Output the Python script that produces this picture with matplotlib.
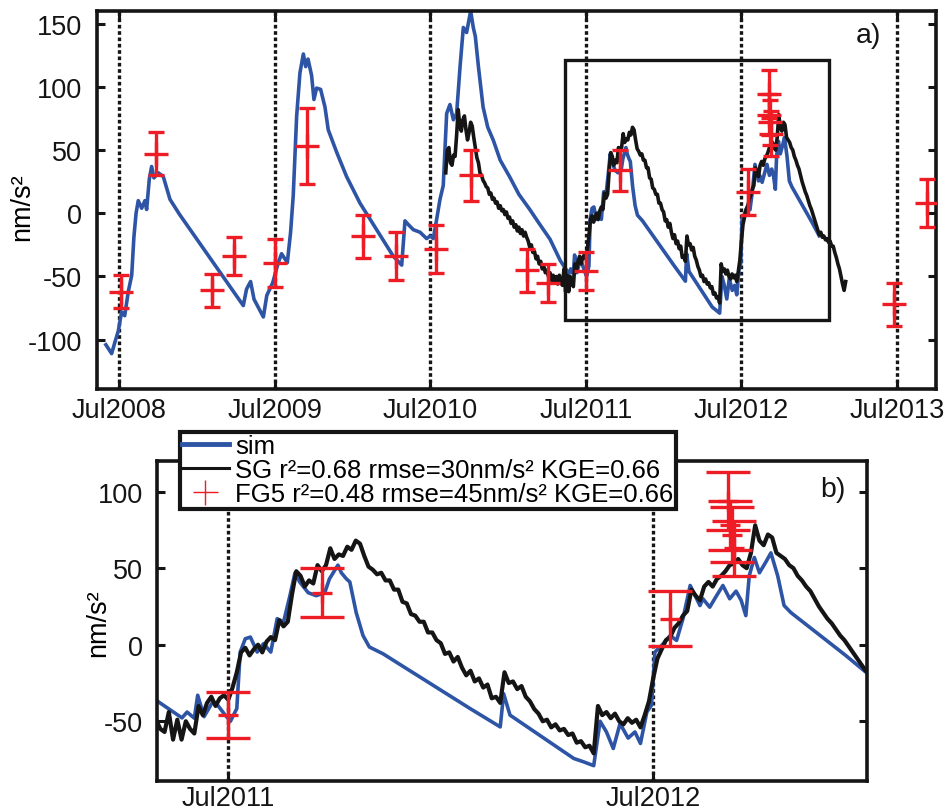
#!/usr/bin/env python3
import matplotlib
matplotlib.use("Agg")
import matplotlib.pyplot as plt
from matplotlib.lines import Line2D
from matplotlib.patches import Rectangle
import numpy as np

plt.rcParams["font.family"] = ["Liberation Sans", "DejaVu Sans"]
plt.rcParams["axes.unicode_minus"] = False

# --- [ gravity residuals: simulation vs SG and FG5 observations ] ---

# time in decimal years (Jul = .5)
JULY_TICKS = [2008.5, 2009.5, 2010.5, 2011.5, 2012.5, 2013.5]
JULY_LABELS = ["Jul2008", "Jul2009", "Jul2010", "Jul2011", "Jul2012", "Jul2013"]

# simulated gravity (nm/s2)
sim_t = [
    2008.416, 2008.453, 2008.474, 2008.496, 2008.517, 2008.537, 2008.560, 2008.582,
    2008.596, 2008.610, 2008.624, 2008.646, 2008.667, 2008.678, 2008.695, 2008.710,
    2008.725, 2008.753, 2008.785, 2008.828, 2008.890, 2009.299, 2009.320, 2009.346,
    2009.368, 2009.428, 2009.450, 2009.488, 2009.524, 2009.545, 2009.582, 2009.603,
    2009.620, 2009.642, 2009.663, 2009.685, 2009.700, 2009.715, 2009.738, 2009.753,
    2009.770, 2009.796, 2009.824, 2009.845, 2009.900, 2009.963, 2010.049, 2010.156,
    2010.263, 2010.317, 2010.338, 2010.360, 2010.392, 2010.435, 2010.477, 2010.500,
    2010.520, 2010.540, 2010.563, 2010.584, 2010.606, 2010.627, 2010.649, 2010.670,
    2010.692, 2010.713, 2010.734, 2010.760, 2010.777, 2010.790, 2010.810, 2010.840,
    2010.870, 2010.905, 2010.950, 2011.010, 2011.070, 2011.140, 2011.200, 2011.270,
    2011.336, 2011.391, 2011.403,
    2011.420, 2011.428, 2011.443, 2011.463, 2011.475, 2011.490, 2011.505, 2011.520,
    2011.528, 2011.540, 2011.552, 2011.568, 2011.583, 2011.600, 2011.615, 2011.630,
    2011.645, 2011.657, 2011.668, 2011.688, 2011.707, 2011.727, 2011.738, 2011.758,
    2011.766, 2011.778, 2011.786, 2011.801, 2011.817, 2011.832, 2011.864, 2012.069,
    2012.140, 2012.148, 2012.163, 2012.313, 2012.336, 2012.360, 2012.375, 2012.390,
    2012.406, 2012.422, 2012.441, 2012.457, 2012.470, 2012.485, 2012.496, 2012.504,
    2012.520, 2012.540, 2012.555, 2012.570, 2012.587, 2012.610, 2012.617, 2012.633,
    2012.649, 2012.664, 2012.680, 2012.695, 2012.707, 2012.718, 2012.726, 2012.738,
    2012.750, 2012.765, 2012.777, 2012.793, 2012.808, 2012.824, 2012.953, 2013.000,
]
sim_val = [
    -104, -111, -102, -93, -78, -81, -62, -49,
    -19, 0, 10, 4, 10, 3, 27, 37,
    28, 32, 29, 11, -1, -73, -60, -54,
    -68, -82, -65, -55, -39, -32, -39, -15,
    14, 77, 111, 126, 116, 122, 109, 90,
    99, 98, 84, 66, 48, 29, 8, -13,
    -34, -41, -6, -9, -13, -15, -20, -18,
    -20, -6, 11, 22, 79, 86, 74, 79,
    116, 147, 143, 160, 147, 140, 116, 84,
    68, 58, 42, 29, 15, 3, -8, -20.5,
    -37.4, -47.8, -44,
    -48, -33, -47, -37.4, -39.5, -45, -50, -41.7,
    -4.8, 3.9, 5, -4.8, 0.7, -4.8, 17, 14.8,
    32, 47, 41, 34, 32, 34, 43, 52,
    47, 43, 41, 21, 6, -1.5, -5.9, -41.7,
    -53.7, -32, -46, -74.3, -76.5, -79, -50, -57,
    -67.8, -51.5, -61, -57, -64.5, -44, -39.5, -4.8,
    -0.4, 6, 2.8, 17, 38.7, 25.6, 30, 24.5,
    32, 38.7, 30, 35, 29, 19, 45, 57,
    47, 54, 60, 45, 25.6, 21, -7, -17.8,
]

# superconducting gravimeter, sampled every 0.01 yr from 2010.60
sg_start = 2010.60
sg_step = 0.01
sg_val = [
    32, 50, 52, 40, 38, 46, 45, 62, 82, 70,
    65, 74, 77, 66, 58, 64, 72, 69, 60, 52,
    44, 40, 32, 30, 26, 24, 21, 20, 15, 16,
    11, 12, 8, 9, 4, 6, 2, 3, -1, 1,
    -4, -3, -8, -6, -11, -9, -14, -11, -16, -13,
    -18, -15, -19, -22, -27, -25, -31, -30, -36, -34,
    -40, -38, -44, -42, -47, -45, -50, -47, -53, -49,
    -55, -50, -56, -49, -55, -57, -44, -62, -49, -62,
    -50, -55, -58, -40, -46, -38, -34, -40, -35, -33,
    -36, -28, -18, -5, -2, -7, -3, 0, -5, 2,
    5, 3, 16, 12, 15, 33, 48, 45, 38, 42,
    40, 52, 48, 52, 63, 56, 59, 58, 64, 62,
    68, 66, 58, 51, 49, 46, 47, 42, 42, 36,
    36, 28, 27, 20, 19, 15, 15, 8, 8, 3,
    1, -6, -5, -11, -8, -15, -20, -17, -24, -22,
    -28, -26, -35, -34, -38, -18, -25, -24, -29, -27,
    -34, -37, -42, -45, -50, -49, -54, -52, -56, -55,
    -59, -58, -64, -63, -67, -66, -71, -40, -46, -44,
    -48, -45, -50, -52, -48, -51, -49, -54, -46, -37,
    -22, -9, -3, 3, 5, 11, 14, 19, 22, 36,
    32, 29, 38, 41, 38, 43, 45, 48, 52, 53,
    56, 52, 50, 60, 78, 68, 65, 72, 70, 60,
    58, 56, 52, 50, 45, 42, 38, 35, 30, 25,
    21, 17, 14, 10, 6, 3, -1, -5, -9, -13,
    -17, -15, -19, -18, -21, -20, -23, -22, -26, -26,
    -31, -35, -40, -44, -50, -56, -61, -54,
]
sg_t = sg_start + sg_step * np.arange(len(sg_val))

# absolute gravimeter FG5 campaigns
fg5_t = [
    2008.51, 2008.74, 2009.10, 2009.24, 2009.50, 2009.71, 2010.07, 2010.28,
    2010.54, 2010.76, 2011.12, 2011.26, 2011.50, 2011.72, 2012.54, 2012.675,
    2012.68, 2012.685, 2012.69, 2013.48, 2013.69,
]
fg5_val = [
    -62, 47, -61, -34, -39, 53, -18, -34,
    -28, 30, -45, -55, -46, 34, 17, 94,
    78, 72, 63, -72, 8,
]
fg5_err = [
    13, 17, 13, 15, 19, 30, 17, 19,
    19, 20, 17, 15, 15, 16, 18, 19,
    16, 18, 18, 17, 19,
]

LEGEND_LABELS = [
    "sim",
    "SG r²=0.68 rmse=30nm/s² KGE=0.66",
    "FG5 r²=0.48 rmse=45nm/s² KGE=0.66",
]

BLUE = "#2E55A5"
RED = "#EE1D25"
BLACK = "#151515"
FONT_SIZE = 19.5


def style_axes(ax, yticks, xlim, ylim):
    for spine in ax.spines.values():
        spine.set_linewidth(2.6)
        spine.set_color(BLACK)
    ax.set_yticks(yticks)
    ax.set_xticks(JULY_TICKS)
    ax.set_xticklabels(JULY_LABELS)
    ax.set_xlim(*xlim)
    ax.set_ylim(*ylim)
    ax.tick_params(direction="in", length=6, width=2.2, top=True, right=True,
                   labelsize=FONT_SIZE, colors=BLACK)


def draw_series(ax, capsize, marker_size, line_width):
    for t in JULY_TICKS:
        ax.axvline(t, color=BLACK, lw=2.4, linestyle=(0, (1.1, 0.8)), zorder=1)
    ax.plot(sim_t, sim_val, color=BLUE, lw=2.6, zorder=2)
    ax.plot(sg_t, sg_val, color=BLACK, lw=line_width, zorder=3)
    ax.errorbar(fg5_t, fg5_val, yerr=fg5_err, fmt="+", color=RED, ecolor=RED,
                elinewidth=2.4, capsize=capsize, capthick=2.4,
                markersize=marker_size, markeredgewidth=2.4, zorder=4)


fig = plt.figure(figsize=(9.51, 8.12), dpi=100)

# panel a)
ax_a = fig.add_axes([0.102, 0.5197, 0.882, 0.4655])
draw_series(ax_a, capsize=6, marker_size=17, line_width=2.6)
ax_a.add_patch(Rectangle((2011.366, -84.8), 1.70, 205.8, fill=False,
                         edgecolor=BLACK, lw=2.4, zorder=5))
style_axes(ax_a, [-100, -50, 0, 50, 100, 150], (2008.359, 2013.749), (-139, 160))
ax_a.tick_params(axis="y", pad=11)
ax_a.tick_params(axis="x", pad=6)
ax_a.set_ylabel("nm/s²", fontsize=FONT_SIZE)
ax_a.yaxis.set_label_coords(-0.074, 0.484)
ax_a.text(0.92, 0.937, "a)", transform=ax_a.transAxes, fontsize=FONT_SIZE + 1,
          ha="center", va="center", color=BLACK)

# panel b)
ax_b = fig.add_axes([0.165, 0.037, 0.7466, 0.394])
draw_series(ax_b, capsize=15.5, marker_size=14, line_width=3.0)
style_axes(ax_b, [-50, 0, 50, 100], (2011.332, 2013.003), (-89, 120))
ax_b.tick_params(axis="y", pad=10)
ax_b.tick_params(axis="x", pad=3)
ax_b.set_ylabel("nm/s²", fontsize=FONT_SIZE)
ax_b.yaxis.set_label_coords(-0.064, 0.497)
ax_b.text(0.952, 0.9125, "b)", transform=ax_b.transAxes, fontsize=FONT_SIZE + 1,
          ha="center", va="center", color=BLACK)

handles = [
    Line2D([], [], color=BLUE, lw=3.5),
    Line2D([], [], color=BLACK, lw=2.2),
    Line2D([], [], color=RED, lw=0, marker="+", markersize=18, markeredgewidth=1.0),
]
legend = fig.legend(handles, LEGEND_LABELS, loc="upper left",
                    bbox_to_anchor=(0.189, 0.467), fontsize=18.5, frameon=True,
                    fancybox=False, framealpha=1.0, edgecolor=BLACK,
                    borderpad=0.1, labelspacing=0.0, handlelength=1.8,
                    handletextpad=0.25, borderaxespad=0.0)
legend.get_frame().set_linewidth(3.0)

fig.savefig("out.png", dpi=100)
plt.close(fig)
